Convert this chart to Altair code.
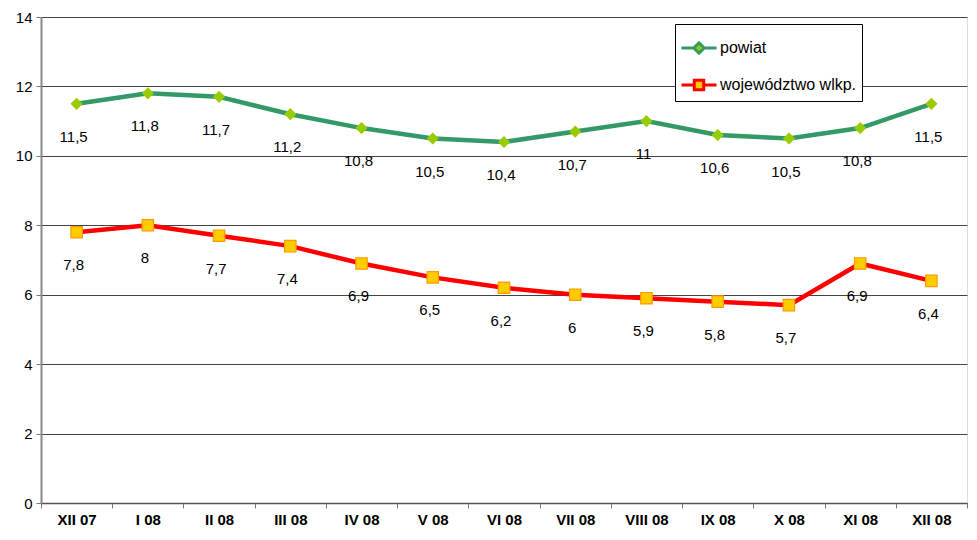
import altair as alt
import pandas as pd

months = ["XII 07", "I 08", "II 08", "III 08", "IV 08", "V 08", "VI 08",
          "VII 08", "VIII 08", "IX 08", "X 08", "XI 08", "XII 08"]
powiat = [11.5, 11.8, 11.7, 11.2, 10.8, 10.5, 10.4, 10.7, 11.0, 10.6, 10.5, 10.8, 11.5]
wojewodztwo = [7.8, 8.0, 7.7, 7.4, 6.9, 6.5, 6.2, 6.0, 5.9, 5.8, 5.7, 6.9, 6.4]
series_names = ["powiat", "województwo wlkp."]

line_colors = ["#339966", "#FF0000"]
marker_fills = ["#99CC00", "#FFCC00"]
marker_strokes = ["#99CC00", "#FF9900"]
marker_shapes = ["diamond", "square"]
marker_sizes = [110, 130]

rows = []
for name, vals in zip(series_names, [powiat, wojewodztwo]):
    for m, v in zip(months, vals):
        rows.append({"month": m, "series": name, "value": v,
                     "label": f"{v:g}".replace(".", ",")})
df = pd.DataFrame(rows)

FONT = "Liberation Sans"

x_enc = alt.X("month:N", sort=months,
              scale=alt.Scale(paddingInner=0, paddingOuter=0),
              axis=alt.Axis(title=None, labelAngle=0, labelFontWeight="bold",
                            labelFontSize=15, labelColor="#000", labelPadding=4,
                            tickBand="extent", tickSize=5, tickColor="#777",
                            domainColor="#555", domainWidth=1.5, grid=False))
y_enc = alt.Y("value:Q", scale=alt.Scale(domain=[0, 14]),
              axis=alt.Axis(title=None, values=[0, 2, 4, 6, 8, 10, 12, 14],
                            labelFontSize=15, labelColor="#000", labelPadding=4,
                            tickSize=5, tickColor="#777", domainColor="#888",
                            domainWidth=2, gridColor="#444", gridWidth=1))

stroke_scale = alt.Scale(domain=series_names, range=line_colors)
fill_scale = alt.Scale(domain=series_names, range=marker_fills)
legend_paths = [
    "M-1,0L-0.3,0M0.3,0L1,0M0,-0.3L0.3,0L0,0.3L-0.3,0Z",
    "M-1,0L-0.27,0M0.27,0L1,0M-0.27,-0.27L0.27,-0.27L0.27,0.27L-0.27,0.27Z",
]
shape_scale = alt.Scale(domain=series_names, range=legend_paths)
legend = alt.Legend(title=None, orient="none", legendX=634, legendY=7,
                    symbolSize=1225, symbolStrokeWidth=3, labelFontSize=16,
                    labelColor="#000", labelFont=FONT, rowPadding=6, padding=5,
                    labelOffset=2, strokeColor="#000", fillColor="#fff",
                    symbolOpacity=1)

base = alt.Chart(df)

lines = base.mark_line(strokeWidth=4.5).encode(
    x=x_enc, y=y_enc,
    stroke=alt.Stroke("series:N", scale=stroke_scale, legend=legend),
)

legend_layer = base.transform_filter("false").mark_point(filled=True, opacity=1).encode(
    x=x_enc, y=y_enc,
    stroke=alt.Stroke("series:N", scale=stroke_scale, legend=legend),
    fill=alt.Fill("series:N", scale=fill_scale, legend=legend),
    shape=alt.Shape("series:N", scale=shape_scale, legend=legend),
)

marker_layers = []
for name, shp, fc, sc, sz in zip(series_names, marker_shapes, marker_fills,
                                 marker_strokes, marker_sizes):
    marker_layers.append(
        base.transform_filter(alt.datum.series == name).mark_point(
            shape=shp, filled=True, fill=fc, stroke=sc, strokeWidth=1.2,
            size=sz, opacity=1
        ).encode(x=x_enc, y=y_enc)
    )

labels = base.mark_text(dy=33, dx=-3, fontSize=15, font=FONT, color="#000").encode(
    x=x_enc, y=y_enc, text="label:N"
)

chart = alt.layer(lines, legend_layer, *marker_layers, labels).properties(
    width=926, height=486,
    padding={"left": 7, "top": 2, "right": 0, "bottom": 0},
    background="white",
).configure_view(stroke=None).configure(font=FONT)

chart.save("out.html", embed_options={"renderer": "svg", "actions": False})
